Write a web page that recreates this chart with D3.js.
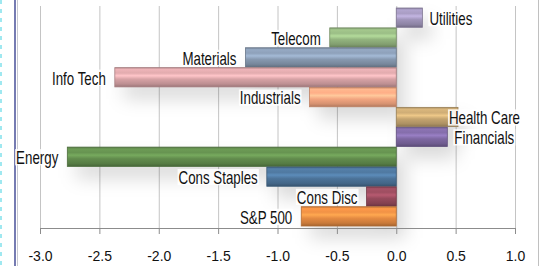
<!DOCTYPE html>
<html>
<head>
<meta charset="utf-8">
<script src="https://cdn.jsdelivr.net/npm/d3@7"></script>
<style>
  body { margin: 0; background: #fff; }
  svg { display: block; }
</style>
</head>
<body>
<div id="chart"></div>
<script>
// sector names, top to bottom
const sectors = ["Utilities", "Telecom", "Materials", "Info Tech", "Industrials", "Health Care",
  "Financials", "Energy", "Cons Staples", "Cons Disc", "S&P 500"];
// returns (%)
const returns = [0.22, -0.56, -1.27, -2.37, -0.73, 0.52, 0.43, -2.77, -1.09, -0.25, -0.80];
// bar base colours
const barColors = ["#A095BA", "#93B47F", "#8799B0", "#D6A2A5", "#F2A580", "#C4A470",
  "#7E68A2", "#628C4D", "#4C7399", "#964A5C", "#E48A42"];
const tickValues = [-3.0, -2.5, -2.0, -1.5, -1.0, -0.5, 0.0, 0.5, 1.0];

const W = 543, H = 266;

const svg = d3.select("#chart").append("svg")
  .attr("width", W)
  .attr("height", H);

const x = d3.scaleLinear().domain([-3, 1]).range([40, 515]);
const y = d3.scaleBand().domain(sectors).range([8, 226]).paddingInner(0.03);
const axisY = 228;

// frame bits on the left / right edge
svg.append("line").attr("x1", 15).attr("x2", 15).attr("y1", 0).attr("y2", H)
  .attr("stroke", "#1a237e").attr("stroke-width", 1.2);
svg.append("line").attr("x1", 17.5).attr("x2", 17.5).attr("y1", 0).attr("y2", H)
  .attr("stroke", "#c8c8d0").attr("stroke-width", 1);
svg.append("line").attr("x1", 538.5).attr("x2", 538.5).attr("y1", 0).attr("y2", H)
  .attr("stroke", "#c0c0c0").attr("stroke-width", 1);
svg.append("g").selectAll("rect")
  .data(d3.range(0, H, 9))
  .join("rect")
    .attr("x", 0).attr("y", d => d).attr("width", 2).attr("height", 4)
    .attr("fill", "#9fe8f0");

const defs = svg.append("defs");

defs.append("filter").attr("id", "soft")
  .attr("x", "-20%").attr("y", "-100%").attr("width", "140%").attr("height", "300%")
  .append("feGaussianBlur").attr("stdDeviation", 9);

barColors.forEach((c, i) => {
  const base = d3.color(c);
  const g = defs.append("linearGradient").attr("id", "grad" + i)
    .attr("x1", 0).attr("x2", 0).attr("y1", 0).attr("y2", 1);
  g.append("stop").attr("offset", "0%").attr("stop-color", base.darker(0.4));
  g.append("stop").attr("offset", "10%").attr("stop-color", base.brighter(0.3));
  g.append("stop").attr("offset", "28%").attr("stop-color", base.brighter(0.15));
  g.append("stop").attr("offset", "42%").attr("stop-color", base.brighter(0.55));
  g.append("stop").attr("offset", "60%").attr("stop-color", base);
  g.append("stop").attr("offset", "85%").attr("stop-color", base.darker(0.35));
  g.append("stop").attr("offset", "100%").attr("stop-color", base.darker(0.9));
});

// gridlines
svg.append("g")
  .selectAll("line")
  .data(tickValues)
  .join("line")
    .attr("x1", d => x(d) + 0.5)
    .attr("x2", d => x(d) + 0.5)
    .attr("y1", 6)
    .attr("y2", axisY)
    .attr("stroke", "#c4c4c4");

// soft shadow behind the bars
svg.append("g")
  .attr("filter", "url(#soft)")
  .attr("transform", "translate(9,12)")
  .selectAll("rect")
  .data(sectors)
  .join("rect")
    .attr("x", (d, i) => x(Math.min(0, returns[i])))
    .attr("width", (d, i) => Math.abs(x(returns[i]) - x(0)))
    .attr("y", d => y(d))
    .attr("height", y.bandwidth())
    .attr("fill", "#000")
    .attr("opacity", 0.15);

// axis
const axis = svg.append("g")
  .attr("transform", `translate(0,${axisY})`)
  .call(d3.axisBottom(x)
    .tickValues(tickValues)
    .tickFormat(d => d3.format(".1f")(d).replace("−", "-"))
    .tickSize(6)
    .tickSizeOuter(0)
    .tickPadding(17));
axis.select(".domain").attr("stroke", "#8c8c8c");
axis.selectAll(".tick line").attr("stroke", "#8c8c8c");
axis.selectAll(".tick text")
  .attr("font-family", "'Liberation Sans', Arial, sans-serif")
  .attr("font-size", 14)
  .attr("fill", "#111");

// bars
const bars = svg.append("g")
  .selectAll("g")
  .data(sectors)
  .join("g");

bars.append("rect")
  .attr("x", (d, i) => x(Math.min(0, returns[i])))
  .attr("width", (d, i) => Math.abs(x(returns[i]) - x(0)))
  .attr("y", d => y(d))
  .attr("height", y.bandwidth())
  .attr("fill", (d, i) => `url(#grad${i})`)
  .attr("stroke", (d, i) => d3.color(barColors[i]).darker(0.7))
  .attr("stroke-width", 0.8);

// category labels, outside the bar end, kept inside the plot; text is squeezed horizontally
const squeeze = 0.74;
bars.each(function (d, i) {
  const g = d3.select(this);
  const v = returns[i];
  const cy = y(d) + y.bandwidth() / 2 + 1;
  const t = g.append("text")
    .text(d)
    .attr("font-family", "'Liberation Sans', Arial, sans-serif")
    .attr("font-size", 18)
    .attr("fill", "#111")
    .attr("dy", "0.35em");
  const w = t.node().getComputedTextLength() * squeeze;
  let lx;
  if (v < 0) {
    lx = x(v) - 9 - w;
  } else {
    lx = Math.min(x(v) + 7, 520 - w);
  }
  t.attr("transform", `translate(${lx},${cy}) scale(${squeeze},1)`);
  g.insert("rect", "text")
    .attr("x", lx - 1)
    .attr("y", y(d) + 2)
    .attr("width", w + 2)
    .attr("height", y.bandwidth() - 3)
    .attr("fill", "#fff")
    .attr("opacity", 0.85);
});
</script>
</body>
</html>
